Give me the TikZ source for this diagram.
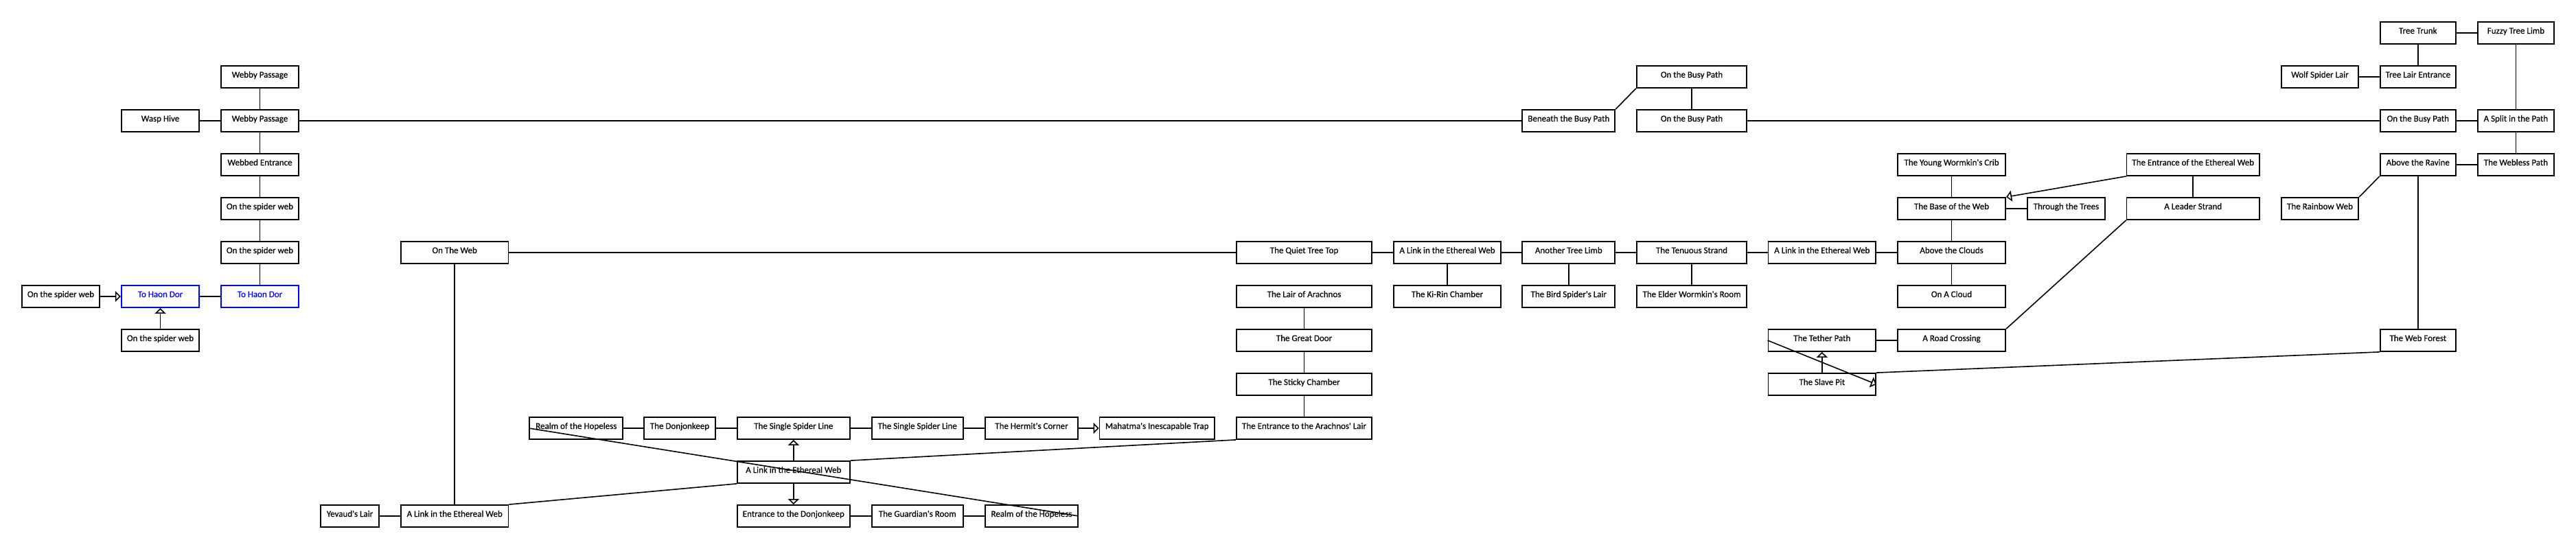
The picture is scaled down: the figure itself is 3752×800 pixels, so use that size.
\documentclass[tikz,border=0pt]{standalone}
\usepackage{fontspec}
\setmainfont{Carlito}
\newfontfamily\roomfont[FakeBold=0.35]{Carlito}
\usepackage{tikz}
\usetikzlibrary{arrows.meta}
\definecolor{haonblue}{RGB}{0,0,255}

\begin{document}
\begin{tikzpicture}[
        x=1pt, y=-1pt,
        room/.style={draw, fill=white, line width=1.8pt, minimum height=32pt,
            inner sep=0pt, text height=8pt, text depth=6pt,
            font=\roomfont\fontsize{13}{15}\selectfont},
        gate/.style={room, draw=haonblue, text=haonblue},
        corridor/.style={line width=1.6pt},
        oneway/.style={corridor, -{Triangle[open, length=8pt, width=16pt]}}
    ]
    \fill[white] (0,0) rectangle (3752,800);
    \useasboundingbox (0,0) rectangle (3752,800);

    \node[room, minimum width=113.6] (sw1) at (88.5,432) {On the spider web};
    \node[room, minimum width=113.6] (wasp) at (233.5,176) {Wasp Hive};
    \node[gate, minimum width=113.6] (haon1) at (233.5,432) {To Haon Dor};
    \node[room, minimum width=113.6] (sw4) at (233.5,496) {On the spider web};
    \node[room, minimum width=113.6] (webby1) at (378.5,112) {Webby Passage};
    \node[room, minimum width=113.6] (webby2) at (378.5,176) {Webby Passage};
    \node[room, minimum width=113.6] (webbed) at (378.5,240) {Webbed Entrance};
    \node[room, minimum width=113.6] (sw2) at (378.5,304) {On the spider web};
    \node[room, minimum width=113.6] (sw3) at (378.5,368) {On the spider web};
    \node[gate, minimum width=113.6] (haon2) at (378.5,432) {To Haon Dor};
    \node[room, minimum width=85.3] (yevaud) at (509.5,752) {Yevaud's Lair};
    \node[room, minimum width=156.5] (onweb) at (662.2,368) {On The Web};
    \node[room, minimum width=156.5] (link0) at (662.2,752) {A Link in the Ethereal Web};
    \node[room, minimum width=136] (realm1) at (839.3,624) {Realm of the Hopeless};
    \node[room, minimum width=103.7] (donjon) at (990,624) {The Donjonkeep};
    \node[room, minimum width=164.2] (ssl1) at (1155.8,624) {The Single Spider Line};
    \node[room, minimum width=164.2] (link1) at (1155.8,688) {A Link in the Ethereal Web};
    \node[room, minimum width=164.2] (entdon) at (1155.8,752) {Entrance to the Donjonkeep};
    \node[room, minimum width=133.2] (ssl2) at (1336.2,624) {The Single Spider Line};
    \node[room, minimum width=133.2] (guardian) at (1336.2,752) {The Guardian's Room};
    \node[room, minimum width=135] (hermit) at (1502.5,624) {The Hermit's Corner};
    \node[room, minimum width=135] (realm2) at (1502.5,752) {Realm of the Hopeless};
    \node[room, minimum width=167.4] (mahatma) at (1685.2,624) {Mahatma's Inescapable Trap};
    \node[room, minimum width=197] (quiet) at (1899.5,368) {The Quiet Tree Top};
    \node[room, minimum width=197] (lair) at (1899.5,432) {The Lair of Arachnos};
    \node[room, minimum width=197] (door) at (1899.5,496) {The Great Door};
    \node[room, minimum width=197] (sticky) at (1899.5,560) {The Sticky Chamber};
    \node[room, minimum width=197] (arachent) at (1899.5,624) {The Entrance to the Arachnos' Lair};
    \node[room, minimum width=156.7] (link2) at (2108,368) {A Link in the Ethereal Web};
    \node[room, minimum width=156.7] (kirin) at (2108,432) {The Ki-Rin Chamber};
    \node[room, minimum width=135.1] (beneath) at (2284.8,176) {Beneath the Busy Path};
    \node[room, minimum width=135.1] (another) at (2284.8,368) {Another Tree Limb};
    \node[room, minimum width=135.1] (bird) at (2284.8,432) {The Bird Spider's Lair};
    \node[room, minimum width=160.7] (busy1) at (2464,112) {On the Busy Path};
    \node[room, minimum width=160.7] (busy2) at (2464,176) {On the Busy Path};
    \node[room, minimum width=160.7] (tenuous) at (2464,368) {The Tenuous Strand};
    \node[room, minimum width=160.7] (elder) at (2464,432) {The Elder Wormkin's Room};
    \node[room, minimum width=156.8] (link3) at (2653.8,368) {A Link in the Ethereal Web};
    \node[room, minimum width=156.8] (tether) at (2653.8,496) {The Tether Path};
    \node[room, minimum width=156.8] (slave) at (2653.8,560) {The Slave Pit};
    \node[room, minimum width=157.4] (young) at (2842.5,240) {The Young Wormkin's Crib};
    \node[room, minimum width=157.4] (base) at (2842.5,304) {The Base of the Web};
    \node[room, minimum width=157.4] (clouds) at (2842.5,368) {Above the Clouds};
    \node[room, minimum width=157.4] (cloud) at (2842.5,432) {On A Cloud};
    \node[room, minimum width=157.4] (road) at (2842.5,496) {A Road Crossing};
    \node[room, minimum width=113.4] (trees) at (3009.4,304) {Through the Trees};
    \node[room, minimum width=193.3] (entrance) at (3194.2,240) {The Entrance of the Ethereal Web};
    \node[room, minimum width=193.3] (leader) at (3194.2,304) {A Leader Strand};
    \node[room, minimum width=112.6] (wolf) at (3379,112) {Wolf Spider Lair};
    \node[room, minimum width=112.6] (rainbow) at (3379,304) {The Rainbow Web};
    \node[room, minimum width=110.3] (trunk) at (3521.8,48) {Tree Trunk};
    \node[room, minimum width=110.3] (treelair) at (3521.8,112) {Tree Lair Entrance};
    \node[room, minimum width=110.3] (busy3) at (3521.8,176) {On the Busy Path};
    \node[room, minimum width=110.3] (ravine) at (3521.8,240) {Above the Ravine};
    \node[room, minimum width=110.3] (forest) at (3521.8,496) {The Web Forest};
    \node[room, minimum width=111.3] (fuzzy) at (3664.4,48) {Fuzzy Tree Limb};
    \node[room, minimum width=111.3] (split) at (3664.4,176) {A Split in the Path};
    \node[room, minimum width=111.3] (webless) at (3664.4,240) {The Webless Path};

    \draw[oneway] (sw1) -- (haon1);
    \draw[oneway] (sw4) -- (haon1);
    \draw[corridor] (haon1) -- (haon2);
    \draw[corridor] (wasp) -- (webby2);
    \draw[corridor] (webby1) -- (webby2);
    \draw[corridor] (webby2) -- (webbed);
    \draw[corridor] (webbed) -- (sw2);
    \draw[corridor] (sw2) -- (sw3);
    \draw[corridor] (sw3) -- (haon2);
    \draw[corridor] (webby2) -- (beneath);
    \draw[corridor] (onweb) -- (quiet);
    \draw[corridor] (onweb) -- (link0);
    \draw[corridor] (yevaud) -- (link0);
    \draw[corridor] (link0.north east) -- (link1.south west);
    \draw[corridor] (link1.north east) -- (arachent.south west);
    \draw[corridor] (realm1) -- (donjon);
    \draw[corridor] (donjon) -- (ssl1);
    \draw[corridor] (ssl1) -- (ssl2);
    \draw[corridor] (ssl2) -- (hermit);
    \draw[oneway] (hermit) -- (mahatma);
    \draw[oneway] (link1) -- (ssl1);
    \draw[oneway] (link1) -- (entdon);
    \draw[corridor] (entdon) -- (guardian);
    \draw[corridor] (guardian) -- (realm2);
    \draw[corridor] (realm1.west) -- (realm2.east);
    \draw[corridor] (quiet) -- (link2);
    \draw[corridor] (link2) -- (another);
    \draw[corridor] (link2) -- (kirin);
    \draw[corridor] (lair) -- (door);
    \draw[corridor] (door) -- (sticky);
    \draw[corridor] (sticky) -- (arachent);
    \draw[corridor] (another) -- (tenuous);
    \draw[corridor] (another) -- (bird);
    \draw[corridor] (tenuous) -- (link3);
    \draw[corridor] (tenuous) -- (elder);
    \draw[corridor] (link3) -- (clouds);
    \draw[corridor] (beneath.north east) -- (busy1.south west);
    \draw[corridor] (busy1) -- (busy2);
    \draw[corridor] (busy2) -- (busy3);
    \draw[corridor] (young) -- (base);
    \draw[corridor] (base) -- (clouds);
    \draw[corridor] (clouds) -- (cloud);
    \draw[corridor] (base) -- (trees);
    \draw[oneway] (entrance.south west) -- (base.north east);
    \draw[corridor] (entrance) -- (leader);
    \draw[corridor] (leader.south west) -- (road.north east);
    \draw[corridor] (tether) -- (road);
    \draw[oneway] (slave) -- (tether);
    \draw[oneway] (tether.west) -- (slave.east);
    \draw[corridor] (forest.south west) -- (slave.north east);
    \draw[corridor] (trunk) -- (fuzzy);
    \draw[corridor] (trunk) -- (treelair);
    \draw[corridor] (wolf) -- (treelair);
    \draw[corridor] (fuzzy) -- (split);
    \draw[corridor] (busy3) -- (split);
    \draw[corridor] (split) -- (webless);
    \draw[corridor] (ravine) -- (webless);
    \draw[corridor] (ravine.south west) -- (rainbow.north east);
    \draw[corridor] (ravine) -- (forest);
\end{tikzpicture}
\end{document}
